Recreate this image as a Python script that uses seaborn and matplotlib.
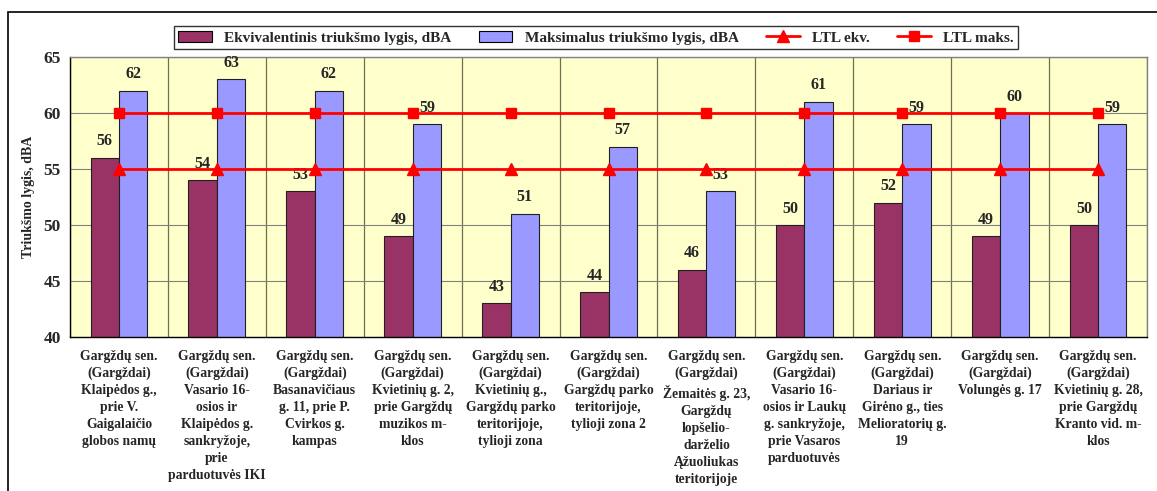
import matplotlib.pyplot as plt
import matplotlib.patches as mpatches
import pandas as pd
import seaborn as sns

locations = [
    "Gargždų sen.\n(Gargždai)\nKlaipėdos g.,\nprie V.\nGaigalaičio\nglobos namų",
    "Gargždų sen.\n(Gargždai)\nVasario 16-\nosios ir\nKlaipėdos g.\nsankryžoje,\nprie\nparduotuvės IKI",
    "Gargždų sen.\n(Gargždai)\nBasanavičiaus\ng. 11, prie P.\nCvirkos g.\nkampas",
    "Gargždų sen.\n(Gargždai)\nKvietinių g. 2,\nprie Gargždų\nmuzikos m-\nklos",
    "Gargždų sen.\n(Gargždai)\nKvietinių g.,\nGargždų parko\nteritorijoje,\ntylioji zona",
    "Gargždų sen.\n(Gargždai)\nGargždų parko\nteritorijoje,\ntylioji zona 2",
    "Gargždų sen.\n(Gargždai)\nŽemaitės g. 23,\nGargždų\nlopšelio-\ndarželio\nĄžuoliukas\nteritorijoje",
    "Gargždų sen.\n(Gargždai)\nVasario 16-\nosios ir Laukų\ng. sankryžoje,\nprie Vasaros\nparduotuvės",
    "Gargždų sen.\n(Gargždai)\nDariaus ir\nGirėno g., ties\nMelioratorių g.\n19",
    "Gargždų sen.\n(Gargždai)\nVolungės g. 17",
    "Gargždų sen.\n(Gargždai)\nKvietinių g. 28,\nprie Gargždų\nKranto vid. m-\nklos",
]
ekv = [56, 54, 53, 49, 43, 44, 46, 50, 52, 49, 50]
maks = [62, 63, 62, 59, 51, 57, 53, 61, 59, 60, 59]
ltl_ekv = [55] * len(locations)
ltl_maks = [60] * len(locations)

s_ekv = "Ekvivalentinis triukšmo lygis, dBA"
s_maks = "Maksimalus triukšmo lygis, dBA"

df = pd.DataFrame({
    "vieta": locations * 2,
    "lygis": ekv + maks,
    "serija": [s_ekv] * len(ekv) + [s_maks] * len(maks),
})

sns.set_theme(style="white")
plt.rcParams["font.family"] = ["Liberation Serif", "DejaVu Serif"]
plt.rcParams["font.weight"] = "bold"

fig = plt.figure(figsize=(11.57, 4.91), dpi=100)
ax = fig.add_axes([0.0605, 0.3136, 0.9309, 0.5703])
ax.set_facecolor("#FFFFCC")

sns.barplot(data=df, x="vieta", y="lygis", hue="serija", order=locations,
            palette={s_ekv: "#993366", s_maks: "#9999FF"}, saturation=1,
            width=0.58, gap=0, edgecolor="#202020", linewidth=0.8,
            legend=False, ax=ax, zorder=2)

for cont in ax.containers:
    ax.bar_label(cont, fmt="%d", padding=6, fontsize=11.5, fontweight="bold")

xs = list(range(len(locations)))
ax.plot(xs, ltl_ekv, color="#FF0000", lw=2, marker="^", ms=8, zorder=4)
ax.plot(xs, ltl_maks, color="#FF0000", lw=2, marker="s", ms=7, zorder=4)

ax.set_xlim(-0.5, len(locations) - 0.5)
ax.set_ylim(40, 65)
ax.set_yticks(range(40, 66, 5))
ax.set_xticks(xs)
ax.set_xticks([i + 0.5 for i in range(-1, len(locations))], minor=True)
ax.set_xticklabels(locations, fontsize=9.8, fontweight="bold", linespacing=1.4)
ax.tick_params(axis="x", which="major", length=0, pad=9)
ax.tick_params(axis="x", which="minor", length=5, direction="out", color="black")
ax.tick_params(axis="y", length=6, direction="inout", labelsize=12.5, color="black")
for lbl in ax.get_yticklabels():
    lbl.set_fontweight("bold")

ax.grid(axis="y", color="#808080", lw=0.8, zorder=0)
ax.grid(axis="x", which="minor", color="#707050", lw=0.9, zorder=0)
ax.set_axisbelow(True)
for sp in ax.spines.values():
    sp.set_color("#808080")
    sp.set_linewidth(1)
ax.spines["left"].set_color("black")
ax.spines["bottom"].set_color("black")

ax.set_xlabel("")
ax.set_ylabel("Triukšmo lygis, dBA", fontsize=10, fontweight="bold", labelpad=6)

handles = [
    mpatches.Patch(facecolor="#993366", edgecolor="black", linewidth=0.8),
    mpatches.Patch(facecolor="#9999FF", edgecolor="black", linewidth=0.8),
    plt.Line2D([], [], color="#FF0000", lw=2, marker="^", ms=8),
    plt.Line2D([], [], color="#FF0000", lw=2, marker="s", ms=7),
]
leg = fig.legend(handles, [s_ekv, s_maks, "LTL ekv.", "LTL maks."],
                 loc="upper center", bbox_to_anchor=(0.515, 0.962), ncol=4,
                 fontsize=11, frameon=True, fancybox=False, edgecolor="black",
                 columnspacing=1.8, handlelength=2.2, borderpad=0.3)
leg.get_frame().set_linewidth(1)
for t in leg.get_texts():
    t.set_fontweight("bold")

fig.add_artist(mpatches.Rectangle((0.007, -0.01), 1.1, 0.985, transform=fig.transFigure,
                                  fill=False, edgecolor="black", lw=1.2))

fig.savefig("out.png", dpi=100)
